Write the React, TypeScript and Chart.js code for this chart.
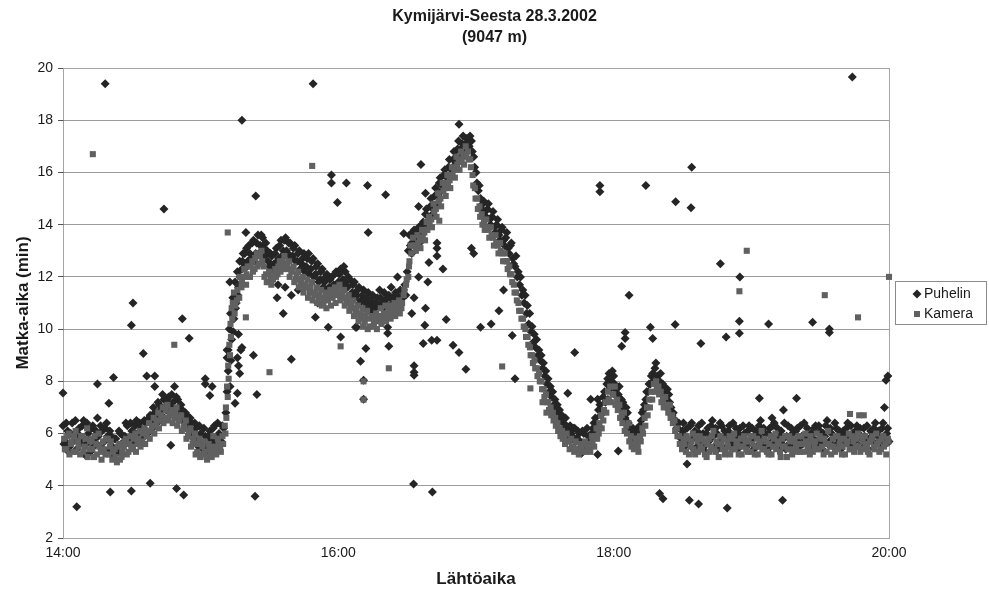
import { useEffect, useRef } from 'react';
import { Chart, registerables } from 'chart.js';

Chart.register(...registerables);

type P = [number, number];

const titleLines = ['Kymijärvi-Seesta 28.3.2002', '(9047 m)'];
const xAxisTitle = 'Lähtöaika';
const yAxisTitle = 'Matka-aika (min)';
const seriesNames = ['Puhelin', 'Kamera'];
// x values are minutes after 14:00
const xTickValues = [0, 120, 240, 360];
const xTickLabels = ['14:00', '16:00', '18:00', '20:00'];
const yMin = 2;
const yMax = 20;
const yStep = 2;

const puhelinBand: P[] = [
  [0,6.3],[1,5.7],[2,6.1],[3,5.5],[4,6.4],[5,5.9],[6,5.4],[7,6.2],[8,5.8],[9,6.5],[10,5.6],[11,6.0],[12,5.3],[13,6.3],[14,5.8],[15,6.6],[16,5.5],[17,6.1],[18,5.7],[19,6.4],[20,5.4],[21,5.9],[22,5.1],[23,5.8],[24,5.3],[25,6.0],[26,5.2],[27,5.9],[28,6.3],[29,5.6],[30,6.1],[31,5.8],[32,6.5],[33,5.7],[34,6.2],[35,5.9],[36,6.4],[37,6.0],[38,6.7],[39,6.2],[40,6.8],[41,6.4],[42,7.1],[43,6.7],[44,7.3],[45,6.9],[46,7.4],[47,7.0],[48,7.2],[49,6.8],[50,7.3],[51,6.7],[52,6.9],[53,6.4],[54,6.7],[55,6.1],[56,6.4],[57,5.8],[58,6.2],[59,5.5],[60,6.0],[61,5.4],[62,5.9],[63,5.3],[64,6.1],[65,5.6],[66,6.3],[67,5.5],[68,6.0],[69,5.7],[70,6.2],
  [71,6.8],[71.5,7.6],[72,8.4],[72,9.2],[72.5,10.0],[73,10.6],[73.5,9.6],[74,11.2],[74.5,10.4],[75,11.8],[75.5,11.0],[76,12.2],[76.5,11.6],[77,12.6],[78,12.3],[78.5,12.9],[79,12.5],[80,13.1],[80.5,12.6],
  [81,13.2],[82,12.7],[83,13.4],[84,12.9],[85,13.6],[86,13.2],[87,13.5],[88,12.8],[89,13.0],[90,12.4],[91,12.8],[92,12.5],[93,13.1],[94,12.7],[95,13.4],[96,13.0],[97,13.5],[98,12.9],[99,13.3],[100,12.8],[101,13.2],[102,12.6],[103,13.0],[104,12.5],[105,12.9],[106,12.4],[107,12.9],[108,12.3],[109,12.7],[110,12.1],[111,12.5],[112,11.9],[113,12.3],[114,11.8],[115,12.1],[116,11.6],[117,12.0],[118,11.7],[119,12.2],[120,11.8],[121,12.3],[122,11.9],[123,12.2],[124,11.6],[125,11.9],[126,11.4],[127,11.8],[128,11.3],[129,11.6],[130,11.1],[131,11.5],[132,11.0],[133,11.4],[134,10.9],[135,11.3],[136,10.8],[137,11.2],[138,11.5],[139,11.0],[140,11.4],[141,10.9],[142,11.3],[143,11.6],[144,11.1],[145,11.4],[146,11.0],[147,11.5],[148,11.2],[149,11.7],[150,12.2],
  [150.5,13.0],[151,13.6],[152,13.3],[153,13.8],[154,13.5],[155,13.9],[156,13.6],[157,14.1],[158,14.4],[159,14.0],[160,14.7],[161,14.4],[162,15.1],[163,14.8],[164,15.6],[165,15.3],[166,15.9],[167,15.6],[168,16.2],[169,15.9],[170,16.5],[171,16.3],[172,16.9],[173,16.6],[174,17.1],[175,16.9],[176,17.3],[177,17.0],[178,17.2],
  [179,16.6],[180,16.0],[181,15.3],[182,15.0],[183,14.8],[184,14.5],[185,14.6],[186,14.2],[187,14.3],[188,13.9],[189,14.0],[190,13.6],[191,13.8],[192,13.4],[193,13.5],[194,13.1],[195,13.2],[196,12.7],[197,12.4],[198,12.0],[199,11.7],[200,11.3],[201,11.0],[202,10.6],[203,10.2],[204,9.9],[205,9.5],[206,9.3],[207,9.0],[208,8.8],[209,8.5],[210,8.2],[211,7.9],[212,7.6],[213,7.4],[214,7.1],[215,6.9],[216,6.7],[217,6.5],[218,6.4],[219,6.6],[220,6.1],[221,6.3],[222,5.9],[223,6.2],[224,5.8],[225,6.0],
  [226,5.6],[227,6.0],[228,5.5],[229,5.9],[230,5.7],[231,6.2],[232,6.6],[233,6.3],[234,7.1],[235,6.8],[236,7.6],[237,7.9],[237.5,7.3],[238,8.3],[239,8.0],[240,8.2],[241,7.7],[242,7.5],[243,7.0],[244,7.2],[245,6.6],[246,6.8],[247,6.2],[248,5.8],[249,6.1],[250,5.7],[251,6.0],[252,6.5],[253,6.9],[254,7.3],[255,7.6],[256,7.9],[257,8.3],[258,8.5],[259,8.2],[260,8.0],[261,7.6],[262,7.8],[263,7.3],[264,7.5],[265,7.0],[266,6.8],[267,6.5],[268,6.2],[269,5.9],[270,6.1],
  [271,5.5],[272,6.2],[273,5.7],[274,6.4],[275,5.4],[276,5.9],[277,6.3],[278,5.6],[279,6.0],[280,5.3],[281,6.2],[282,5.8],[283,6.5],[284,5.5],[285,6.0],[286,5.7],[287,6.3],[288,5.4],[289,5.9],[290,6.1],[291,5.6],[292,6.4],[293,5.8],[294,5.4],[295,6.2],[296,5.7],[297,6.0],[298,5.5],[299,6.3],[300,5.8],[301,5.4],[302,6.1],[303,5.9],[304,6.5],[305,5.6],[306,6.0],[307,5.3],[308,6.2],[309,5.7],[310,6.4],[311,5.9],[312,5.5],[313,6.1],[314,5.8],[315,5.4],[316,6.3],[317,5.6],[318,6.0],[319,5.7],[320,6.2],[321,5.5],[322,5.9],[323,6.4],[324,5.7],[325,5.3],[326,6.0],[327,5.8],[328,6.3],[329,5.6],[330,6.1],[331,5.4],[332,5.9],[333,6.5],[334,5.7],[335,6.0],[336,5.5],[337,6.2],[338,5.8],[339,5.4],[340,6.1],[341,5.9],[342,6.4],[343,5.6],[344,6.0],[345,5.7],[346,6.3],[347,5.5],[348,5.9],[349,6.2],[350,5.8],[351,5.4],[352,6.1],[353,5.7],[354,6.4],[355,5.9],[356,5.6],[357,6.2],[358,5.8],[359,6.0],[360,5.7],
];

const puhelinBand2: P[] = [
  [0.4,5.6],[1.4,6.4],[2.4,5.3],[3.4,6.0],[4.4,5.7],[5.4,6.5],[6.4,6.0],[7.4,5.6],[8.4,6.3],[9.4,5.2],[10.4,6.4],[11.4,5.7],[12.4,6.2],[13.4,5.5],[14.4,6.1],[15.4,5.9],[16.4,6.3],[17.4,5.4],[18.4,6.2],[19.4,5.9],[20.4,6.1],[21.4,5.5],[22.4,5.8],[23.4,5.4],[24.4,6.1],[25.4,5.6],[26.4,5.9],[27.4,6.4],[28.4,5.8],[29.4,6.4],[30.4,5.7],[31.4,6.3],[32.4,6.0],[33.4,6.4],[34.4,5.8],[35.4,6.5],[36.4,6.1],[37.4,6.6],[38.4,6.4],[39.4,7.0],[40.4,6.6],[41.4,7.2],[42.4,6.9],[43.4,7.5],[44.4,7.0],[45.4,7.3],[46.4,7.1],[47.4,7.5],[48.4,6.9],[49.4,7.4],[50.4,7.0],[51.4,7.1],[52.4,6.6],[53.4,6.8],[54.4,6.3],[55.4,6.6],[56.4,6.0],[57.4,6.4],[58.4,5.7],[59.4,6.3],[60.4,5.6],[61.4,6.2],[62.4,5.5],[63.4,5.9],[64.4,5.7],[65.4,6.2],[66.4,5.8],[67.4,6.4],[68.4,5.6],[69.4,6.3],
  [72.8,7.8],[73.2,8.8],[74.2,9.9],[75.2,10.8],[76.2,11.3],[77.2,12.0],[78.2,12.6],[79.2,12.9],[80.2,12.4],
  [81.4,12.9],[82.4,13.3],[83.4,12.6],[84.4,13.3],[85.4,12.9],[86.4,13.6],[87.4,13.1],[88.4,13.3],[89.4,12.6],[90.4,12.9],[91.4,12.3],[92.4,12.9],[93.4,12.6],[94.4,13.2],[95.4,12.8],[96.4,13.4],[97.4,13.0],[98.4,13.3],[99.4,12.7],[100.4,13.1],[101.4,12.6],[102.4,12.9],[103.4,12.3],[104.4,12.7],[105.4,12.2],[106.4,12.7],[107.4,12.1],[108.4,12.6],[109.4,12.0],[110.4,12.4],[111.4,11.8],[112.4,12.2],[113.4,11.6],[114.4,12.0],[115.4,11.5],[116.4,11.9],[117.4,11.5],[118.4,12.1],[119.4,11.6],[120.4,12.1],[121.4,11.7],[122.4,12.4],[123.4,11.8],[124.4,12.0],[125.4,11.3],[126.4,11.7],[127.4,11.2],[128.4,11.5],[129.4,11.0],[130.4,11.3],[131.4,10.8],[132.4,11.2],[133.4,10.7],[134.4,11.1],[135.4,10.6],[136.4,11.0],[137.4,10.9],[138.4,11.2],[139.4,10.8],[140.4,11.1],[141.4,11.2],[142.4,10.9],[143.4,11.2],[144.4,10.9],[145.4,11.3],[146.4,10.8],[147.4,11.2],[148.4,11.5],[149.4,11.3],
  [151.4,13.2],[152.4,13.7],[153.4,13.4],[154.4,13.8],[155.4,13.3],[156.4,14.0],[157.4,13.8],[158.4,14.6],[159.4,14.3],[160.4,15.0],[161.4,14.6],[162.4,15.4],[163.4,15.1],[164.4,15.8],[165.4,15.5],[166.4,16.1],[167.4,15.8],[168.4,16.5],[169.4,16.1],[170.4,16.8],[171.4,16.6],[172.4,17.2],[173.4,16.9],[174.4,17.4],[175.4,17.1],[176.4,17.0],[177.4,17.4],
  [178.4,16.8],[179.4,16.2],[180.4,15.6],[181.4,15.5],[182.4,14.6],[183.4,14.9],[184.4,14.3],[185.4,14.8],[186.4,14.0],[187.4,14.5],[188.4,13.7],[189.4,14.2],[190.4,13.4],[191.4,13.9],[192.4,13.2],[193.4,13.7],[194.4,12.9],[195.4,13.3],[196.4,12.5],[197.4,12.8],[198.4,12.2],[199.4,12.0],[200.4,11.5],[201.4,11.3],[202.4,10.9],[203.4,10.6],[204.4,10.1],[205.4,9.8],[206.4,9.6],[207.4,9.2],[208.4,9.0],[209.4,8.7],[210.4,8.4],[211.4,8.1],[212.4,7.8],[213.4,7.6],[214.4,7.3],[215.4,7.1],[216.4,6.9],[217.4,6.7],[218.4,6.2],[219.4,6.3],[220.4,5.9],[221.4,6.0],[222.4,6.2],[223.4,5.7],[224.4,6.1],
  [225.4,5.7],[226.4,6.1],[227.4,5.6],[228.4,6.2],[229.4,5.5],[230.4,6.0],[231.4,6.4],[232.4,6.1],[233.4,6.9],[234.4,6.7],[235.4,7.4],[236.4,7.2],[237.4,8.1],[238.4,7.7],[239.4,8.4],[240.4,7.9],[241.4,7.4],[242.4,7.8],[243.4,7.3],[244.4,6.9],[245.4,7.0],[246.4,6.4],[247.4,6.0],[248.4,6.2],[249.4,5.8],[250.4,6.2],[251.4,6.3],[252.4,6.8],[253.4,7.1],[254.4,7.6],[255.4,7.9],[256.4,8.2],[257.4,8.0],[258.4,8.7],[259.4,7.9],[260.4,8.3],[261.4,7.9],[262.4,7.5],[263.4,7.7],[264.4,7.2],[265.4,6.7],[266.4,6.5],[267.4,6.2],[268.4,6.4],[269.4,5.8],
  [270.4,6.4],[271.4,5.9],[272.4,5.6],[273.4,6.3],[274.4,5.8],[275.4,6.1],[276.4,5.5],[277.4,6.0],[278.4,6.4],[279.4,5.5],[280.4,6.0],[281.4,5.7],[282.4,6.3],[283.4,5.9],[284.4,6.2],[285.4,5.4],[286.4,6.4],[287.4,5.8],[288.4,6.1],[289.4,5.5],[290.4,6.3],[291.4,5.9],[292.4,5.6],[293.4,6.2],[294.4,6.0],[295.4,5.6],[296.4,6.3],[297.4,5.5],[298.4,6.1],[299.4,5.7],[300.4,6.2],[301.4,5.9],[302.4,5.5],[303.4,6.3],[304.4,5.8],[305.4,6.2],[306.4,5.6],[307.4,6.0],[308.4,5.5],[309.4,6.3],[310.4,5.7],[311.4,6.2],[312.4,5.9],[313.4,5.6],[314.4,6.4],[315.4,5.9],[316.4,5.6],[317.4,6.2],[318.4,5.5],[319.4,6.1],[320.4,5.7],[321.4,6.3],[322.4,5.6],[323.4,5.9],[324.4,6.2],[325.4,5.8],[326.4,5.5],[327.4,6.2],[328.4,5.7],[329.4,6.3],[330.4,5.6],[331.4,6.0],[332.4,6.3],[333.4,5.6],[334.4,6.2],[335.4,5.8],[336.4,6.4],[337.4,5.6],[338.4,6.1],[339.4,5.9],[340.4,5.6],[341.4,6.2],[342.4,5.8],[343.4,6.3],[344.4,5.5],[345.4,6.1],[346.4,5.8],[347.4,6.2],[348.4,5.6],[349.4,5.9],[350.4,6.3],[351.4,5.7],[352.4,5.9],[353.4,6.2],[354.4,5.6],[355.4,6.1],[356.4,5.8],[357.4,6.4],[358.4,5.6],[359.4,6.2],
];

const puhelinOutliers: P[] = [
  [0,7.55],[6,3.2],[15,7.9],[18.4,19.4],[20,7.16],[20.6,3.76],[22,8.15],[29.8,10.15],[29.8,3.8],[30.5,11.0],[35,9.07],[36.5,8.2],[38,4.1],[40,8.2],[40,7.8],[44,14.6],[47,5.55],[48.6,7.8],[49.5,3.9],[52,10.4],[52.6,3.65],[55,9.65],[62,8.1],[62,7.9],[64,7.46],[65,7.8],
  [71.5,9.2],[71.5,8.9],[72.7,11.8],[75,7.16],[76,7.54],[76,8.9],[76.5,9.8],[77.5,9.2],[76.5,8.6],[77,8.3],[78,9.3],[78,18.0],[79.7,13.7],[83,9.0],[83.7,3.6],[84,15.1],[84.5,7.5],
  [93.3,11.2],[93.7,11.7],[96,10.6],[96.8,11.6],[99.5,8.85],[99.5,11.3],[102.5,11.5],[109,19.4],[110,10.45],[111,11.0],[115.6,10.07],[117,15.9],[117,15.6],[119.6,14.85],[121,9.7],[123.5,15.6],[127.5,10.07],[128,10.07],[129.7,8.77],[131,8.04],[131,7.31],[132,9.26],[132.7,15.5],[133,13.7],[140.6,15.15],[141.5,10.07],[141.5,9.84],[142,9.34],[145.8,12.0],[148.5,13.66],
  [152,12.9],[152,10.6],[152.8,4.07],[153,11.2],[153,8.6],[153,8.35],[153,8.23],[155,14.7],[155,12.0],[156,16.3],[157,9.45],[157.7,10.15],[158,15.2],[158,10.8],[159,11.8],[159.5,12.55],[160.7,9.57],[161,3.76],[163,9.57],[163,13.3],[163,13.1],[163,12.8],[165.6,12.3],[167,10.37],[170,9.38],[172.6,9.1],[172.6,17.85],[175.6,8.46],[178,13.1],[179,12.9],[182,10.07],[186.6,10.2],[190,10.7],[192,11.5],[195.8,9.76],[197,8.1],
  [220,7.54],[223,9.1],[226,5.25],[230,7.31],[233,7.31],[233,5.2],[234,15.5],[234,15.26],[242,5.33],[243.5,9.34],[245,9.87],[245,9.64],[246.7,11.3],[254,15.5],[256,10.07],[257,9.64],[260,3.7],[261.5,3.5],[266.8,10.18],[267,14.88],[272,4.83],[273,3.45],[273.7,14.65],[274,16.2],[277,3.3],[278,9.45],[286.5,12.5],[289,9.7],[289.5,3.15],[294.8,10.3],[294.8,9.84],[295,12.0],[303.5,7.35],[307.5,10.2],[309,6.6],[313.6,3.45],[314,6.9],[319.7,7.35],[326.7,10.26],[334,10.0],[334,9.87],[344,19.66],[358,7.0],[358.7,8.04],[359.5,8.2],
];

const kameraBand: P[] = [
  [0.5,5.8],[1.5,5.4],[2.5,6.0],[3.5,5.6],[4.5,5.3],[5.5,6.1],[6.5,5.7],[7.5,5.2],[8.5,5.9],[9.5,5.5],[10.5,6.2],[11.5,5.4],[12.5,5.8],[13.5,5.1],[14.5,5.6],[15.5,6.0],[16.5,5.3],[17.5,5.7],[18.5,5.2],[19.5,5.8],[20.5,5.5],[21.5,5.0],[22.5,5.4],[23.5,4.9],[24.5,5.6],[25.5,5.1],[26.5,5.5],[27.5,5.8],[28.5,5.3],[29.5,5.9],[30.5,5.5],[31.5,6.0],[32.5,5.6],[33.5,6.1],[34.5,5.7],[35.5,6.2],[36.5,5.9],[37.5,6.4],[38.5,6.1],[39.5,6.6],[40.5,6.3],[41.5,6.8],[42.5,6.5],[43.5,7.0],[44.5,6.6],[45.5,7.1],[46.5,6.8],[47.5,6.9],[48.5,6.6],[49.5,7.0],[50.5,6.5],[51.5,6.7],[52.5,6.2],[53.5,6.5],[54.5,5.9],[55.5,6.2],[56.5,5.6],[57.5,6.0],[58.5,5.3],[59.5,5.8],[60.5,5.2],[61.5,5.7],[62.5,5.1],[63.5,5.6],[64.5,5.3],[65.5,5.9],[66.5,5.4],[67.5,5.8],[68.5,5.5],[69.5,5.9],[70.5,6.3],
  [71,7.0],[71.5,7.8],[72,8.6],[72.5,9.4],[73,10.2],[73.5,10.8],[74,11.0],[74.5,11.4],[75,10.9],[76,11.5],[77,12.0],[78,11.8],[79,12.3],[80,12.1],
  [80.5,12.4],[81.5,12.0],[82.5,12.6],[83.5,12.3],[84.5,12.9],[85.5,12.5],[86.5,13.0],[87.5,12.4],[88.5,12.1],[89.5,11.8],[90.5,12.0],[91.5,11.9],[92.5,12.3],[93.5,12.1],[94.5,12.6],[95.5,12.4],[96.5,12.8],[97.5,12.3],[98.5,12.6],[99.5,12.2],[100.5,12.4],[101.5,11.9],[102.5,12.2],[103.5,11.7],[104.5,12.0],[105.5,11.6],[106.5,11.9],[107.5,11.4],[108.5,11.8],[109.5,11.3],[110.5,11.6],[111.5,11.2],[112.5,11.5],[113.5,11.0],[114.5,11.4],[115.5,11.1],[116.5,11.5],[117.5,11.2],[118.5,11.6],[119.5,11.3],[120.5,11.7],[121.5,11.2],[122.5,11.5],[123.5,11.0],[124.5,11.3],[125.5,10.8],[126.5,11.1],[127.5,10.6],[128.5,10.9],[129.5,10.4],[130.5,10.8],[131.5,10.3],[132.5,10.7],[133.5,10.1],[134.5,10.5],[135.5,10.2],[136.5,10.6],[137.5,10.3],[138.5,10.8],[139.5,10.4],[140.5,10.9],[141.5,10.5],[142.5,10.9],[143.5,10.6],[144.5,11.0],[145.5,10.7],[146.5,11.1],[147.5,10.8],[148.5,11.3],[149.5,11.7],[150.5,12.0],[151,12.6],
  [151.5,13.2],[152.5,13.5],[153.5,13.2],[154.5,13.6],[155.5,13.4],[156.5,13.8],[157.5,13.7],[158.5,14.1],[159.5,14.3],[160.5,14.2],[161.5,14.8],[162.5,14.6],[163.5,15.2],[164.5,15.0],[165.5,15.6],[166.5,15.4],[167.5,15.9],[168.5,15.7],[169.5,16.2],[170.5,16.1],[171.5,16.6],[172.5,16.4],[173.5,16.8],[174.5,16.6],[175.5,17.0],[176.5,16.8],[177.5,16.5],
  [178.5,15.9],[179.5,15.4],[180.5,15.0],[181.5,14.7],[182.5,14.4],[183.5,14.1],[184.5,14.2],[185.5,13.8],[186.5,13.9],[187.5,13.5],[188.5,13.6],[189.5,13.2],[190.5,13.3],[191.5,12.9],[192.5,12.9],[193.5,12.6],[194.5,12.4],[195.5,12.1],[196.5,11.7],[197.5,11.4],[198.5,11.0],[199.5,10.7],[200.5,10.4],[201.5,10.0],[202.5,9.7],[203.5,9.3],[204.5,9.0],[205.5,8.8],[206.5,8.5],[207.5,8.3],[208.5,8.0],[209.5,7.7],[210.5,7.5],[211.5,7.2],[212.5,7.0],[213.5,6.8],[214.5,6.6],[215.5,6.4],[216.5,6.2],[217.5,6.1],[218.5,5.9],[219.5,6.0],[220.5,5.7],[221.5,5.8],[222.5,5.5],[223.5,5.7],[224.5,5.4],[225.5,5.6],
  [226.5,5.3],[227.5,5.7],[228.5,5.4],[229.5,5.6],[230.5,5.9],[231.5,5.5],[232.5,6.2],[233.5,6.0],[234.5,6.7],[235.5,6.5],[236.5,7.2],[237.5,7.6],[238.5,7.8],[239.5,7.5],[240.5,7.8],[241.5,7.3],[242.5,7.1],[243.5,6.7],[244.5,6.8],[245.5,6.3],[246.5,6.4],[247.5,5.9],[248.5,5.6],[249.5,5.8],[250.5,5.5],[251.5,5.9],[252.5,6.2],[253.5,6.6],[254.5,7.0],[255.5,7.3],[256.5,7.6],[257.5,7.9],[258.5,8.0],[259.5,7.8],[260.5,7.6],[261.5,7.3],[262.5,7.4],[263.5,7.0],[264.5,7.1],[265.5,6.7],[266.5,6.5],[267.5,6.2],[268.5,5.9],[269.5,5.6],[270.5,5.8],
  [271.5,5.3],[272.5,5.8],[273.5,5.5],[274.5,6.0],[275.5,5.2],[276.5,5.7],[277.5,5.9],[278.5,5.4],[279.5,5.7],[280.5,5.1],[281.5,5.8],[282.5,5.5],[283.5,6.1],[284.5,5.3],[285.5,5.6],[286.5,5.9],[287.5,5.4],[288.5,5.2],[289.5,5.7],[290.5,5.9],[291.5,5.4],[292.5,6.0],[293.5,5.6],[294.5,5.2],[295.5,5.8],[296.5,5.5],[297.5,5.7],[298.5,5.3],[299.5,5.9],[300.5,5.6],[301.5,5.2],[302.5,5.8],[303.5,5.5],[304.5,6.1],[305.5,5.4],[306.5,5.7],[307.5,5.2],[308.5,5.9],[309.5,5.5],[310.5,6.0],[311.5,5.6],[312.5,5.3],[313.5,5.8],[314.5,5.5],[315.5,5.1],[316.5,5.9],[317.5,5.4],[318.5,5.7],[319.5,5.5],[320.5,5.9],[321.5,5.3],[322.5,5.6],[323.5,6.0],[324.5,5.4],[325.5,5.2],[326.5,5.7],[327.5,5.5],[328.5,6.0],[329.5,5.4],[330.5,5.8],[331.5,5.2],[332.5,5.6],[333.5,6.1],[334.5,5.5],[335.5,5.8],[336.5,5.3],[337.5,5.9],[338.5,5.6],[339.5,5.2],[340.5,5.8],[341.5,5.6],[342.5,6.0],[343.5,5.4],[344.5,5.7],[345.5,5.5],[346.5,6.0],[347.5,5.3],[348.5,5.7],[349.5,5.9],[350.5,5.5],[351.5,5.2],[352.5,5.8],[353.5,5.5],[354.5,6.0],[355.5,5.7],[356.5,5.4],[357.5,5.9],[358.5,5.6],[359.5,5.8],
];

const kameraBand2: P[] = [
  [0.8,5.4],[1.8,5.9],[2.8,5.2],[3.8,5.7],[4.8,5.9],[5.8,5.3],[6.8,5.5],[7.8,5.9],[8.8,5.3],[9.8,5.8],[10.8,5.1],[11.8,5.7],[12.8,5.4],[13.8,5.9],[14.8,5.2],[15.8,5.5],[16.8,5.0],[17.8,5.4],[18.8,5.8],[19.8,5.2],[20.8,5.7],[21.8,5.3],[22.8,5.1],[23.8,5.5],[24.8,5.0],[25.8,5.3],[26.8,5.7],[27.8,5.2],[28.8,5.6],[29.8,5.4],[30.8,5.8],[31.8,5.3],[32.8,5.8],[33.8,5.5],[34.8,6.0],[35.8,5.6],[36.8,6.1],[37.8,5.8],[38.8,6.3],[39.8,6.0],[40.8,6.5],[41.8,6.2],[42.8,6.7],[43.8,6.4],[44.8,6.9],[45.8,6.5],[46.8,6.7],[47.8,6.4],[48.8,6.8],[49.8,6.3],[50.8,6.6],[51.8,6.1],[52.8,6.3],[53.8,5.8],[54.8,6.1],[55.8,5.5],[56.8,5.8],[57.8,5.2],[58.8,5.6],[59.8,5.1],[60.8,5.5],[61.8,5.3],[62.8,5.0],[63.8,5.4],[64.8,5.1],[65.8,5.5],[66.8,5.2],[67.8,5.6],[68.8,5.3],[69.8,5.6],
  [70.8,6.0],[71.2,6.6],[71.8,7.4],[72.2,8.1],[72.8,9.0],[73.2,9.7],[73.8,10.4],[74.8,10.6],[75.8,11.1],[76.8,11.2],[77.8,11.6],[78.8,12.0],[79.8,11.7],
  [80.8,12.0],[81.8,12.4],[82.8,12.2],[83.8,12.7],[84.8,12.4],[85.8,12.8],[86.8,12.6],[87.8,12.0],[88.8,11.8],[89.8,12.2],[90.8,11.7],[91.8,12.1],[92.8,12.0],[93.8,12.4],[94.8,12.2],[95.8,12.6],[96.8,12.3],[97.8,12.5],[98.8,12.0],[99.8,12.3],[100.8,11.8],[101.8,12.1],[102.8,11.6],[103.8,11.9],[104.8,11.4],[105.8,11.7],[106.8,11.2],[107.8,11.6],[108.8,11.1],[109.8,11.4],[110.8,11.0],[111.8,11.3],[112.8,10.9],[113.8,11.2],[114.8,10.8],[115.8,11.3],[116.8,10.9],[117.8,11.4],[118.8,11.0],[119.8,11.5],[120.8,11.1],[121.8,11.4],[122.8,10.9],[123.8,11.2],[124.8,10.7],[125.8,11.0],[126.8,10.5],[127.8,10.8],[128.8,10.3],[129.8,10.6],[130.8,10.1],[131.8,10.5],[132.8,10.0],[133.8,10.4],[134.8,10.1],[135.8,10.4],[136.8,10.0],[137.8,10.5],[138.8,10.2],[139.8,10.6],[140.8,10.3],[141.8,10.7],[142.8,10.4],[143.8,10.8],[144.8,10.5],[145.8,10.9],[146.8,10.6],[147.8,11.0],[148.8,11.5],[149.8,11.9],[150.8,12.4],
  [151.8,12.9],[152.8,13.2],[153.8,13.0],[154.8,13.3],[155.8,13.1],[156.8,13.5],[157.8,13.4],[158.8,13.8],[159.8,14.0],[160.8,13.9],[161.8,14.5],[162.8,14.3],[163.8,14.9],[164.8,14.7],[165.8,15.3],[166.8,15.1],[167.8,15.6],[168.8,15.4],[169.8,15.9],[170.8,15.8],[171.8,16.3],[172.8,16.1],[173.8,16.5],[174.8,16.3],[175.8,16.7],[176.8,16.5],[177.8,16.2],
  [178.8,15.5],[179.8,15.0],[180.8,14.6],[181.8,14.3],[182.8,14.0],[183.8,13.8],[184.8,13.9],[185.8,13.5],[186.8,13.6],[187.8,13.2],[188.8,13.3],[189.8,12.9],[190.8,13.0],[191.8,12.6],[192.8,12.6],[193.8,12.3],[194.8,12.1],[195.8,11.8],[196.8,11.4],[197.8,11.1],[198.8,10.7],[199.8,10.4],[200.8,10.1],[201.8,9.7],[202.8,9.4],[203.8,9.0],[204.8,8.7],[205.8,8.5],[206.8,8.2],[207.8,8.0],[208.8,7.7],[209.8,7.4],[210.8,7.2],[211.8,6.9],[212.8,6.7],[213.8,6.5],[214.8,6.3],[215.8,6.1],[216.8,5.9],[217.8,5.8],[218.8,5.6],[219.8,5.7],[220.8,5.4],[221.8,5.5],[222.8,5.3],[223.8,5.4],[224.8,5.2],
  [225.8,5.4],[226.8,5.6],[227.8,5.3],[228.8,5.5],[229.8,5.3],[230.8,5.7],[231.8,5.9],[232.8,5.8],[233.8,6.4],[234.8,6.2],[235.8,6.9],[236.8,6.8],[237.8,7.3],[238.8,7.2],[239.8,7.5],[240.8,7.1],[241.8,6.9],[242.8,6.6],[243.8,6.4],[244.8,6.1],[245.8,6.0],[246.8,5.7],[247.8,5.5],[248.8,5.4],[249.8,5.6],[250.8,5.3],[251.8,5.7],[252.8,6.0],[253.8,6.3],[254.8,6.7],[255.8,7.0],[256.8,7.3],[257.8,7.6],[258.8,7.7],[259.8,7.5],[260.8,7.2],[261.8,7.0],[262.8,7.1],[263.8,6.8],[264.8,6.6],[265.8,6.4],[266.8,6.1],[267.8,5.9],[268.8,5.6],[269.8,5.4],
  [270.8,5.6],[271.8,5.9],[272.8,5.2],[273.8,5.7],[274.8,5.4],[275.8,5.9],[276.8,5.3],[277.8,5.5],[278.8,5.8],[279.8,5.2],[280.8,5.6],[281.8,5.3],[282.8,5.9],[283.8,5.4],[284.8,5.7],[285.8,5.1],[286.8,5.6],[287.8,5.8],[288.8,5.3],[289.8,5.5],[290.8,5.2],[291.8,5.8],[292.8,5.4],[293.8,5.7],[294.8,5.5],[295.8,5.2],[296.8,5.9],[297.8,5.4],[298.8,5.7],[299.8,5.3],[300.8,5.9],[301.8,5.5],[302.8,5.2],[303.8,5.7],[304.8,5.4],[305.8,5.8],[306.8,5.3],[307.8,5.6],[308.8,5.2],[309.8,5.8],[310.8,5.4],[311.8,5.7],[312.8,5.1],[313.8,5.5],[314.8,5.9],[315.8,5.4],[316.8,5.7],[317.8,5.2],[318.8,5.8],[319.8,5.3],[320.8,5.6],[321.8,5.9],[322.8,5.3],[323.8,5.7],[324.8,5.5],[325.8,5.9],[326.8,5.3],[327.8,5.7],[328.8,5.4],[329.8,5.9],[330.8,5.5],[331.8,5.8],[332.8,5.3],[333.8,5.6],[334.8,5.2],[335.8,5.5],[336.8,5.9],[337.8,5.4],[338.8,5.8],[339.8,5.5],[340.8,5.2],[341.8,5.7],[342.8,5.4],[343.8,5.9],[344.8,5.3],[345.8,5.8],[346.8,5.5],[347.8,5.9],[348.8,5.4],[349.8,5.6],[350.8,5.3],[351.8,5.7],[352.8,5.9],[353.8,5.4],[354.8,5.6],[355.8,5.3],[356.8,5.8],[357.8,5.5],[358.8,5.2],[359.8,5.7],
];

const kameraOutliers: P[] = [
  [13,16.7],[48.5,9.4],[71.8,13.7],[79.7,10.45],[90,8.35],[108.6,16.25],[121,9.34],[131,8.0],[131,7.3],[142,8.5],[164,14.15],[191.4,8.57],[203.7,7.73],[209,7.2],[210.7,6.8],[294.8,11.45],[298,13.0],[332,11.3],[343,6.75],[346.5,10.45],[347,6.7],[349,6.7],[360,12.0],
];

const FONT = "'Liberation Sans', Arial, Helvetica, sans-serif";
const PUHELIN_COLOR = '#252525';
const KAMERA_COLOR = '#606060';

const toXY = (pts: P[]) => pts.map(([x, y]) => ({ x, y }));

const titlePlugin = {
  id: 'customTitle',
  afterDraw(chart: any) {
    const { ctx, width } = chart;
    ctx.save();
    ctx.fillStyle = '#1a1a1a';
    ctx.font = `bold 16px ${FONT}`;
    ctx.textAlign = 'center';
    ctx.textBaseline = 'middle';
    titleLines.forEach((line, i) => ctx.fillText(line, width / 2, 17 + i * 20.5));
    ctx.restore();
  },
};

const borderPlugin = {
  id: 'plotBorder',
  beforeDatasetsDraw(chart: any) {
    const { ctx, chartArea: a } = chart;
    ctx.save();
    ctx.strokeStyle = '#4a4a4a';
    ctx.lineWidth = 1;
    ctx.setLineDash([1, 1]);
    ctx.strokeRect(Math.round(a.left) + 0.5, Math.round(a.top) + 0.5, Math.round(a.right - a.left), Math.round(a.bottom - a.top));
    ctx.restore();
  },
};

const legendPlugin = {
  id: 'boxLegend',
  afterDraw(chart: any) {
    const { ctx, chartArea: a } = chart;
    const left = Math.round(a.right) + 6.5;
    const midY = (a.top + a.bottom) / 2;
    const top = Math.round(midY - 22) + 0.5;
    ctx.save();
    ctx.strokeStyle = '#8a8a8a';
    ctx.lineWidth = 1;
    ctx.strokeRect(left, top, 91, 43);
    const colors = [PUHELIN_COLOR, KAMERA_COLOR];
    seriesNames.forEach((name, i) => {
      const cy = top + 12.5 + i * 20;
      const cx = left + 21.5;
      ctx.fillStyle = colors[i];
      ctx.beginPath();
      if (i === 0) {
        ctx.moveTo(cx - 4.5, cy);
        ctx.lineTo(cx, cy - 4.5);
        ctx.lineTo(cx + 4.5, cy);
        ctx.lineTo(cx, cy + 4.5);
        ctx.closePath();
      } else {
        ctx.rect(cx - 3, cy - 3, 6, 6);
      }
      ctx.fill();
      ctx.fillStyle = '#1a1a1a';
      ctx.font = `14px ${FONT}`;
      ctx.textAlign = 'left';
      ctx.textBaseline = 'middle';
      ctx.fillText(name, cx + 7, cy);
    });
    ctx.restore();
  },
};

export default function App() {
  const canvasRef = useRef<HTMLCanvasElement | null>(null);

  useEffect(() => {
    document.body.style.margin = '0';
    const canvas = canvasRef.current;
    if (!canvas) return;
    const chart = new Chart(canvas, {
      type: 'scatter',
      data: {
        datasets: [
          {
            label: seriesNames[0],
            data: toXY([...puhelinBand, ...puhelinBand2, ...puhelinOutliers]),
            pointStyle: 'rectRot',
            pointRadius: 4.5,
            pointBorderWidth: 0,
            borderWidth: 0,
            backgroundColor: PUHELIN_COLOR,
            borderColor: PUHELIN_COLOR,
            order: 1,
            clip: false,
          },
          {
            label: seriesNames[1],
            data: toXY([...kameraBand, ...kameraBand2, ...kameraOutliers]),
            pointStyle: 'rect',
            pointRadius: 4.3,
            pointBorderWidth: 0,
            borderWidth: 0,
            backgroundColor: KAMERA_COLOR,
            borderColor: KAMERA_COLOR,
            order: 0,
            clip: false,
          },
        ],
      },
      options: {
        animation: false,
        responsive: false,
        maintainAspectRatio: false,
        layout: { padding: { top: 68, right: 100, bottom: 0, left: 0 } },
        plugins: {
          legend: { display: false },
          title: { display: false },
          tooltip: { enabled: false },
        },
        scales: {
          x: {
            type: 'linear',
            min: xTickValues[0],
            max: xTickValues[xTickValues.length - 1],
            afterFit: (s: any) => { s.height = 52; },
            afterBuildTicks: (s: any) => { s.ticks = xTickValues.map((v) => ({ value: v })); },
            ticks: {
              callback: (v: any) => { const i = xTickValues.indexOf(Number(v)); return i >= 0 ? xTickLabels[i] : ''; },
              font: { family: FONT, size: 14 },
              color: '#1a1a1a',
              padding: 7,
              maxRotation: 0,
              autoSkip: false,
            },
            grid: { display: false, drawTicks: false },
            border: { display: false },
            title: {
              display: true,
              text: xAxisTitle,
              font: { family: FONT, size: 17, weight: 'bold' },
              color: '#1a1a1a',
              padding: { top: 0, bottom: 0 },
            },
          },
          y: {
            type: 'linear',
            min: yMin,
            max: yMax,
            afterFit: (s: any) => { s.width = 63; },
            ticks: {
              stepSize: yStep,
              font: { family: FONT, size: 14 },
              color: '#1a1a1a',
              padding: 5,
            },
            grid: {
              color: (c: any) => (c.tick && (c.tick.value === yMin || c.tick.value === yMax) ? 'rgba(0,0,0,0)' : '#9c9c9c'),
              tickColor: '#555555',
              tickLength: 5,
              lineWidth: 1,
            },
            border: { display: false },
            title: {
              display: true,
              text: yAxisTitle,
              font: { family: FONT, size: 17, weight: 'bold' },
              color: '#1a1a1a',
              padding: { top: 13, bottom: 0 },
            },
          },
        },
      } as any,
      plugins: [titlePlugin, borderPlugin, legendPlugin],
    });
    return () => chart.destroy();
  }, []);

  return (
    <div style={{ width: 989, height: 590, position: 'relative', background: '#ffffff' }}>
      <canvas ref={canvasRef} width={989} height={590} style={{ display: 'block' }} />
    </div>
  );
}
